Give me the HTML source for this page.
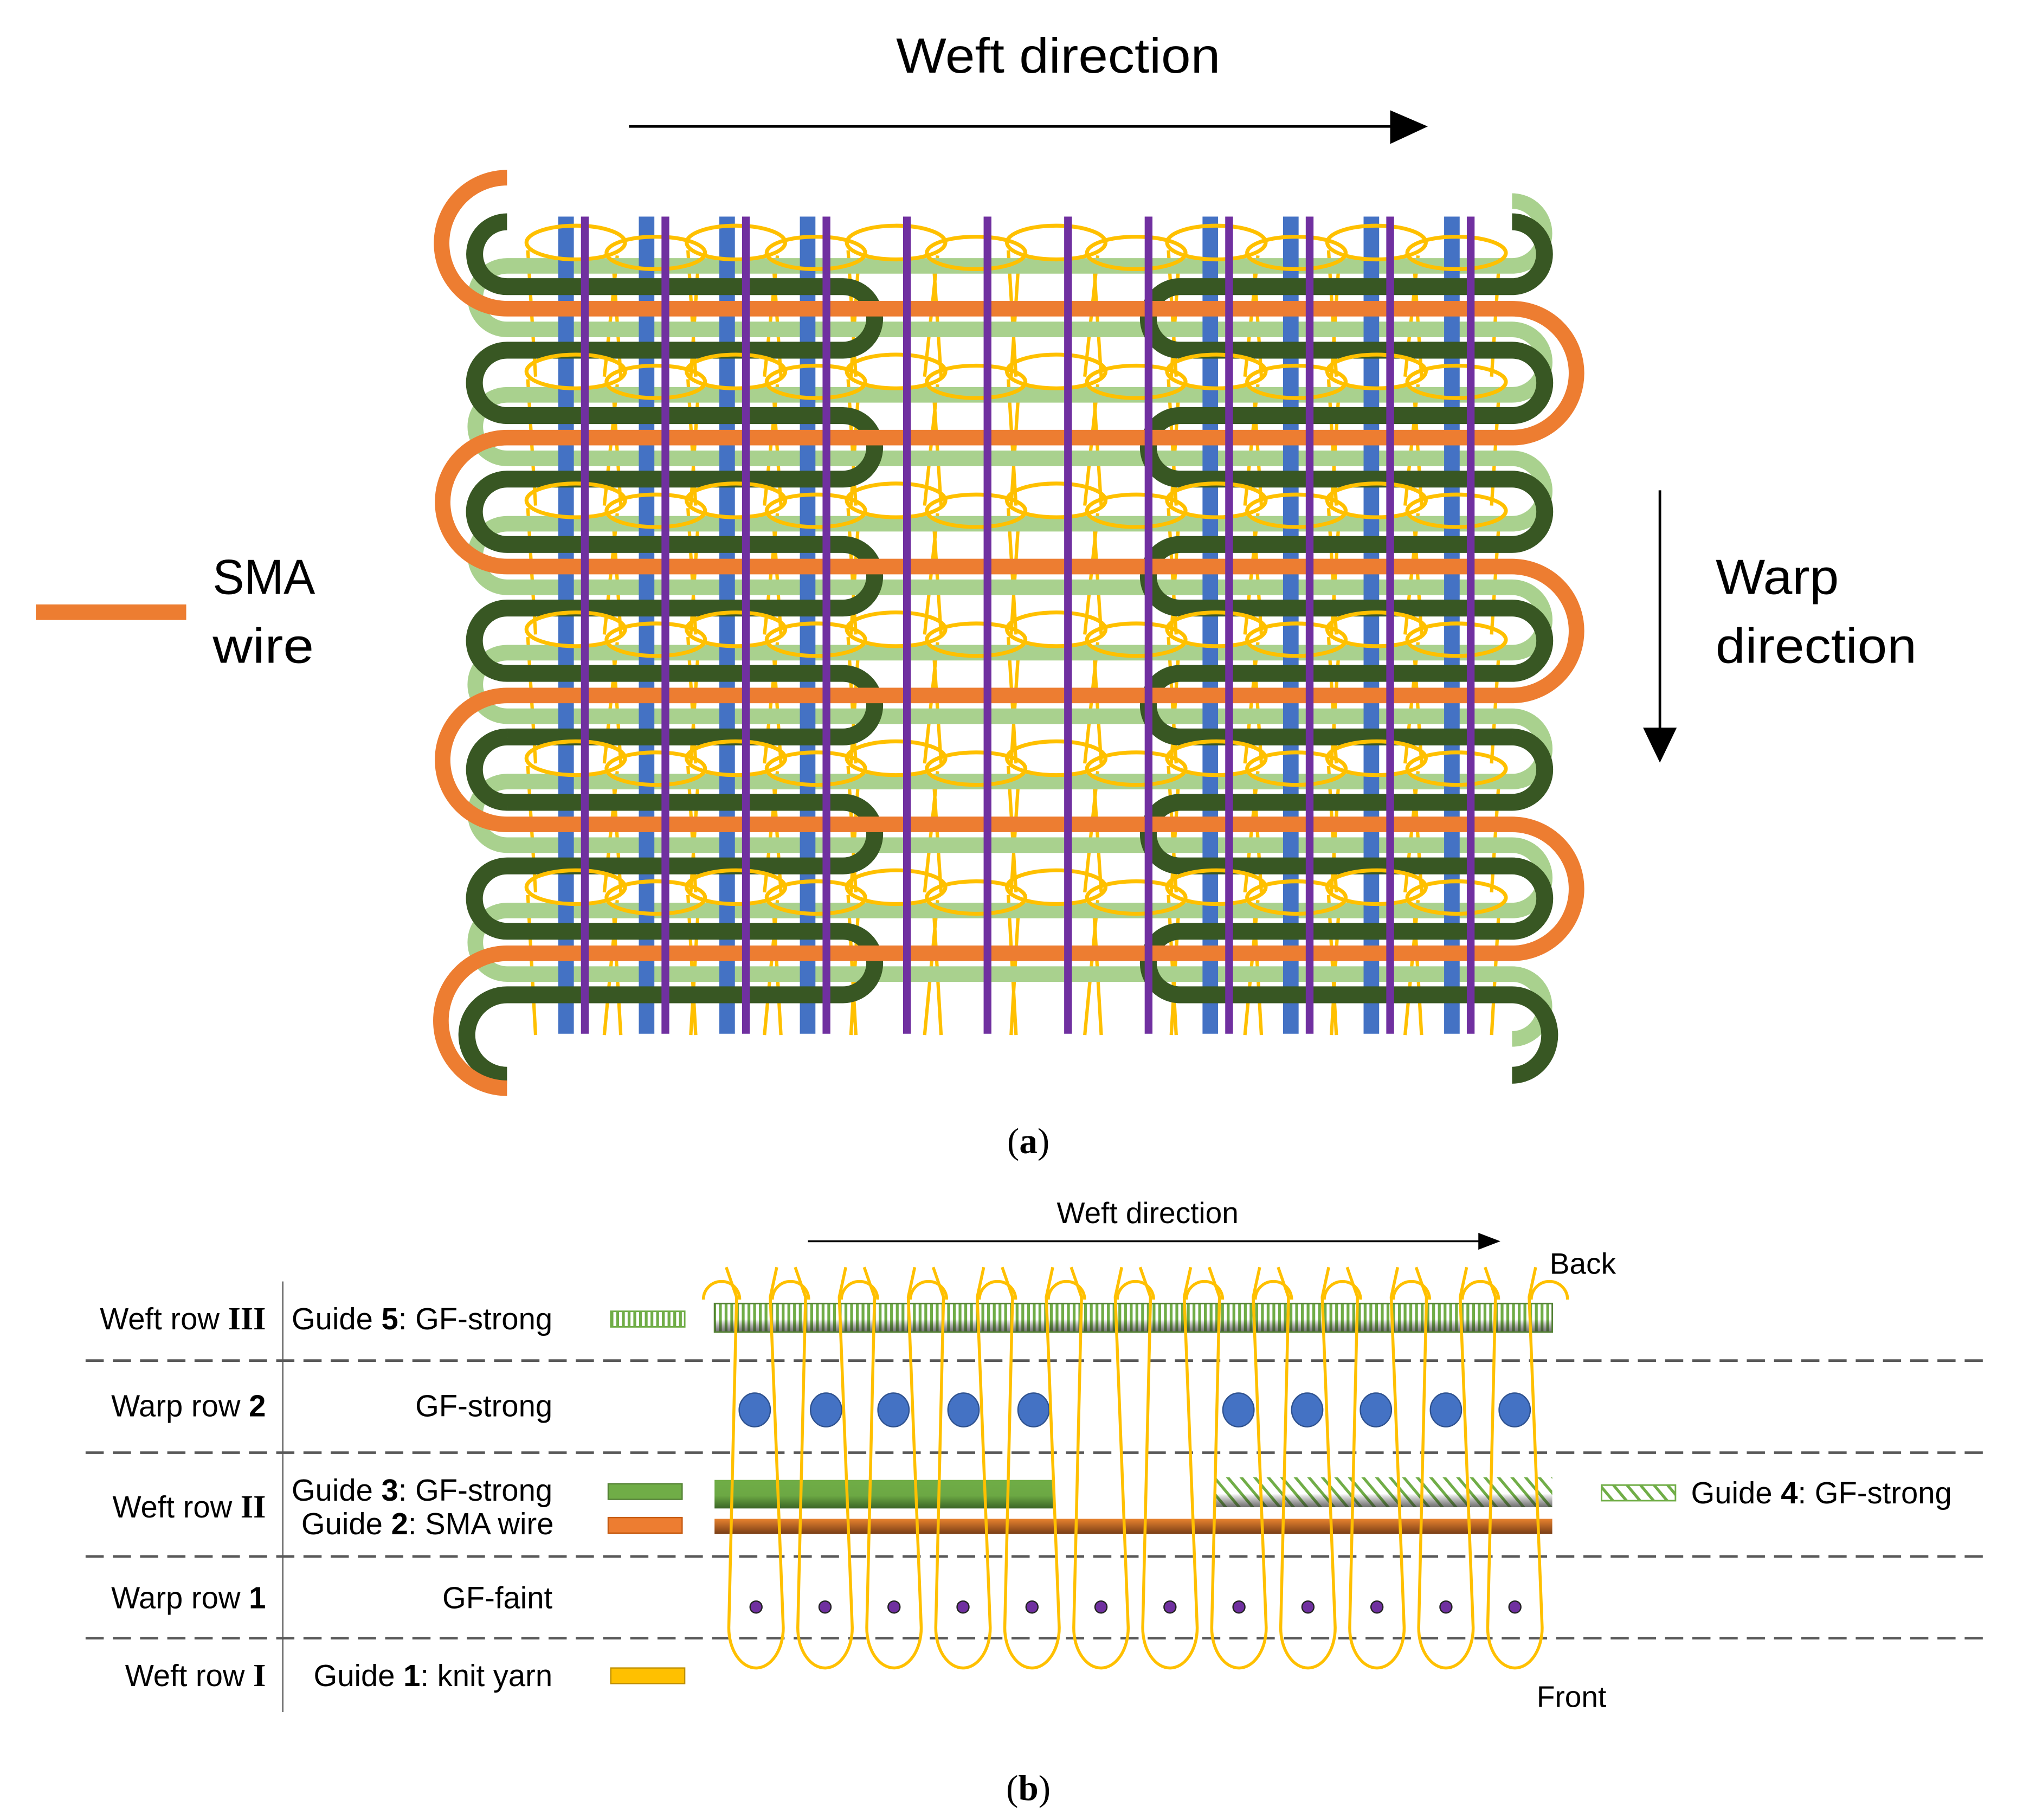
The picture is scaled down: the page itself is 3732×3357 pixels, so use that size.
<!DOCTYPE html>
<html><head><meta charset="utf-8"><style>
html,body{margin:0;padding:0;background:#fff;}
svg{display:block;}
.s{font-family:"Liberation Sans",sans-serif;fill:#000;}
.r{font-family:"Liberation Serif",serif;fill:#000;}
</style></head><body>
<svg xmlns="http://www.w3.org/2000/svg" width="3732" height="3357" viewBox="0 0 1560 1403.2" preserveAspectRatio="none">
<defs>
<pattern id="vs" width="4.4" height="40" patternUnits="userSpaceOnUse"><rect width="4.4" height="40" fill="#fff"/><rect width="2.2" height="40" fill="#70AD47"/></pattern>
<pattern id="hatch" width="8" height="8" patternUnits="userSpaceOnUse" patternTransform="rotate(-40)"><rect width="8" height="8" fill="#fff"/><rect width="2.2" height="8" fill="#70AD47"/></pattern>
<linearGradient id="shade" x1="0" y1="0" x2="0" y2="1"><stop offset="0" stop-color="#000" stop-opacity="0"/><stop offset="0.55" stop-color="#000" stop-opacity="0"/><stop offset="1" stop-color="#333" stop-opacity="0.7"/></linearGradient>
<linearGradient id="gg" x1="0" y1="0" x2="0" y2="1"><stop offset="0" stop-color="#70AD47"/><stop offset="0.55" stop-color="#6CA844"/><stop offset="1" stop-color="#3B6526"/></linearGradient>
<linearGradient id="og" x1="0" y1="0" x2="0" y2="1"><stop offset="0" stop-color="#E8822F"/><stop offset="1" stop-color="#7A3F17"/></linearGradient>
</defs>

<!-- Part (a) -->
<text class="s" x="691" y="56" font-size="38" textLength="250" lengthAdjust="spacingAndGlyphs">Weft direction</text>
<line x1="485" y1="97.5" x2="1075" y2="97.5" stroke="#000" stroke-width="2"/>
<polygon points="1072,85 1101,97.5 1072,111" fill="#000"/>

<rect x="27.6" y="466" width="116" height="12" fill="#ED7D31"/>
<text class="s" x="164" y="458" font-size="38" textLength="79" lengthAdjust="spacingAndGlyphs">SMA</text>
<text class="s" x="164" y="511" font-size="38" textLength="78" lengthAdjust="spacingAndGlyphs">wire</text>

<line x1="1280" y1="378" x2="1280" y2="563" stroke="#000" stroke-width="2"/>
<polygon points="1267,561 1293,561 1280,588" fill="#000"/>
<text class="s" x="1323" y="458" font-size="38" textLength="95" lengthAdjust="spacingAndGlyphs">Warp</text>
<text class="s" x="1323" y="511" font-size="38" textLength="155" lengthAdjust="spacingAndGlyphs">direction</text>

<g id="legs" fill="none" stroke="#FFC000" stroke-width="2.6"></g>
<g id="light" fill="none" stroke="#A9D18E" stroke-width="12"></g>
<g id="blue" stroke="#4472C4" stroke-width="12"></g>
<g id="dark" fill="none" stroke="#385723" stroke-width="13"></g>
<g id="orange" fill="none" stroke="#ED7D31" stroke-width="12"></g>
<g id="loops" fill="none" stroke="#FFC000" stroke-width="3"></g>
<g id="purple" stroke="#7030A0" stroke-width="6"></g>

<text class="r" x="793" y="889" font-size="28" text-anchor="middle">(<tspan font-weight="bold">a</tspan>)</text>

<!-- Part (b) -->
<text class="s" x="885" y="943" font-size="23" text-anchor="middle">Weft direction</text>
<line x1="623" y1="957" x2="1142" y2="957" stroke="#000" stroke-width="1.5"/>
<polygon points="1140,950.5 1157,957 1140,963.5" fill="#000"/>
<text class="s" x="1195" y="982" font-size="23">Back</text>
<text class="s" x="1185" y="1316" font-size="23">Front</text>

<line x1="218" y1="988" x2="218" y2="1320" stroke="#777" stroke-width="1.3"/>
<g stroke="#595959" stroke-width="2" stroke-dasharray="14 7">
<line x1="66" y1="1049" x2="1532" y2="1049"/>
<line x1="66" y1="1120" x2="1532" y2="1120"/>
<line x1="66" y1="1200" x2="1532" y2="1200"/>
<line x1="66" y1="1263" x2="1532" y2="1263"/>
</g>

<g font-size="23.5">
<text class="s" x="205" y="1025" text-anchor="end">Weft row <tspan class="r" font-weight="bold" font-size="25">III</tspan></text>
<text class="s" x="205" y="1092" text-anchor="end">Warp row <tspan font-weight="bold">2</tspan></text>
<text class="s" x="205" y="1170" text-anchor="end">Weft row <tspan class="r" font-weight="bold" font-size="25">II</tspan></text>
<text class="s" x="205" y="1240" text-anchor="end">Warp row <tspan font-weight="bold">1</tspan></text>
<text class="s" x="205" y="1300" text-anchor="end">Weft row <tspan class="r" font-weight="bold" font-size="25">I</tspan></text>

<text class="s" x="426" y="1025" text-anchor="end">Guide <tspan font-weight="bold">5</tspan>: GF-strong</text>
<text class="s" x="426" y="1092" text-anchor="end">GF-strong</text>
<text class="s" x="426" y="1157" text-anchor="end">Guide <tspan font-weight="bold">3</tspan>: GF-strong</text>
<text class="s" x="427" y="1183" text-anchor="end">Guide <tspan font-weight="bold">2</tspan>: SMA wire</text>
<text class="s" x="426" y="1240" text-anchor="end">GF-faint</text>
<text class="s" x="426" y="1300" text-anchor="end">Guide <tspan font-weight="bold">1</tspan>: knit yarn</text>
<text class="s" x="1304" y="1159">Guide <tspan font-weight="bold">4</tspan>: GF-strong</text>
</g>

<!-- legend swatches -->
<rect x="471" y="1011" width="57" height="12" fill="url(#vs)" stroke="#70AD47" stroke-width="1.2"/>
<rect x="469" y="1144" width="57" height="12" fill="#70AD47" stroke="#548235" stroke-width="1"/>
<rect x="469" y="1170" width="57" height="12" fill="#ED7D31" stroke="#C55A11" stroke-width="1"/>
<rect x="471" y="1286" width="57" height="12" fill="#FFC000" stroke="#BF9000" stroke-width="1"/>
<rect x="1235" y="1145" width="57" height="12" fill="url(#hatch)" stroke="#70AD47" stroke-width="1.2"/>

<!-- bars -->
<rect x="551" y="1005" width="646" height="22" fill="url(#vs)"/>
<rect x="551" y="1005" width="646" height="22" fill="url(#shade)" stroke="#548235" stroke-width="1.2"/>
<rect x="551" y="1141" width="262" height="22" fill="url(#gg)"/>
<rect x="937" y="1139" width="260" height="23" fill="url(#hatch)"/>
<rect x="937" y="1139" width="260" height="23" fill="url(#shade)"/>
<rect x="551" y="1171" width="646" height="11.5" fill="url(#og)"/>

<g fill="#4472C4" stroke="#2F528F" stroke-width="1">
<ellipse cx="582" cy="1087" rx="12" ry="13"/><ellipse cx="637" cy="1087" rx="12" ry="13"/><ellipse cx="689" cy="1087" rx="12" ry="13"/><ellipse cx="743" cy="1087" rx="12" ry="13"/><ellipse cx="797" cy="1087" rx="12" ry="13"/>
<ellipse cx="955" cy="1087" rx="12" ry="13"/><ellipse cx="1008" cy="1087" rx="12" ry="13"/><ellipse cx="1061" cy="1087" rx="12" ry="13"/><ellipse cx="1115" cy="1087" rx="12" ry="13"/><ellipse cx="1168" cy="1087" rx="12" ry="13"/>
</g>
<g id="pdots" fill="#7030A0" stroke="#222" stroke-width="1"></g>
<g id="bloops" fill="none" stroke="#FFC000" stroke-width="2.3"></g>

<text class="r" x="793" y="1388" font-size="28" text-anchor="middle">(<tspan font-weight="bold">b</tspan>)</text>
</svg>
<script>
(function(){
var P=99.4,B0=205,xl=391,xr=1166,g1=650,g2=910;
var legs='',light='',dark='',orange='',loops='',blue='',purple='';
for(var k=0;k<6;k++){
 var B=B0+k*P;
 light+='M'+xl+' '+B+'H'+xr+'M'+xl+' '+(B+49)+'H'+xr+'M'+xl+' '+B+'A24.5 24.5 0 0 0 '+xl+' '+(B+49);
 if(k<5) light+='M'+xr+' '+(B+49)+'A25.2 25.2 0 0 1 '+xr+' '+(B+P);
 dark+='M'+xl+' '+(B+16)+'H'+g1+'A24.5 24.5 0 0 1 '+g1+' '+(B+65)+'H'+xl;
 dark+='M'+xr+' '+(B+16)+'H'+g2+'A24.5 24.5 0 0 0 '+g2+' '+(B+65)+'H'+xr;
 if(k<5){
  dark+='M'+xl+' '+(B+65)+'A25.2 25.2 0 0 0 '+xl+' '+(B+P+16);
  dark+='M'+xr+' '+(B+65)+'A25.2 25.2 0 0 1 '+xr+' '+(B+P+16);
 }
 orange+='M'+xl+' '+(B+33)+'H'+xr;
 if(k<5){
  if(k%2==0) orange+='M'+xr+' '+(B+33)+'A49.7 49.7 0 0 1 '+xr+' '+(B+P+33);
  else orange+='M'+xl+' '+(B+33)+'A49.7 49.7 0 0 0 '+xl+' '+(B+P+33);
 }
 var yEnd=k<5?B+P-14:798;
 for(var i=0;i<6;i++){
  var cu=444+123.5*i, cl=505.7+123.5*i;
  loops+='<ellipse cx="'+cu+'" cy="'+(B-18)+'" rx="38" ry="13"/>';
  loops+='<ellipse cx="'+cl+'" cy="'+(B-10)+'" rx="38" ry="12.5"/>';
  legs+='M'+(cu-37)+' '+(B-12)+'L'+(cu-31)+' '+yEnd+'M'+(cu+32)+' '+(B-8)+'L'+(cu+22)+' '+yEnd;
  legs+='M'+(cl-33)+' '+(B-6)+'L'+(cl-27)+' '+yEnd+'M'+(cl+33)+' '+(B-6)+'L'+(cl+27)+' '+yEnd;
 }
}
var B5=B0+5*P;
light+='M'+xr+' '+(B0-50)+'A25 25 0 0 1 '+xr+' '+B0;
light+='M'+xr+' '+(B5+49)+'A25 25 0 0 1 '+xr+' '+(B5+99);
dark+='M'+xl+' '+(B0-34)+'A25 25 0 0 0 '+xl+' '+(B0+16);
dark+='M'+xr+' '+(B0-34)+'A25 25 0 0 1 '+xr+' '+(B0+16);
dark+='M'+xl+' '+(B5+65)+'A31 31 0 0 0 '+xl+' '+(B5+127);
dark+='M'+xr+' '+(B5+65)+'A29 31 0 0 1 '+xr+' '+(B5+127);
orange+='M'+xl+' '+(B0+33-101)+'A50.5 50.5 0 0 0 '+xl+' '+(B0+33);
orange+='M'+xl+' '+(B5+33)+'A51 52 0 0 0 '+xl+' '+(B5+137);
for(var j=0;j<12;j++){
 var px=451+62.1*j;
 purple+='<line x1="'+px+'" y1="167" x2="'+px+'" y2="797"/>';
 if(j<4||j>7) blue+='<line x1="'+(px-14.5)+'" y1="167" x2="'+(px-14.5)+'" y2="797"/>';
}
document.getElementById('legs').innerHTML='<path d="'+legs+'"/>';
document.getElementById('light').innerHTML='<path d="'+light+'"/>';
document.getElementById('dark').innerHTML='<path d="'+dark+'"/>';
document.getElementById('orange').innerHTML='<path d="'+orange+'"/>';
document.getElementById('loops').innerHTML=loops;
document.getElementById('blue').innerHTML=blue;
document.getElementById('purple').innerHTML=purple;
var pd='',bl='';
for(var k=0;k<12;k++){
 var c=583+53.2*k;
 pd+='<circle cx="'+c+'" cy="1239" r="4.6"/>';
 bl+='M'+(c-23)+' 977L'+(c-15)+' 1000L'+(c-21)+' 1255A21 31 0 0 0 '+(c+21)+' 1255L'+(c+11)+' 1000L'+(c+16)+' 977';
}
for(var a=0;a<13;a++){
 var m=583-26.6+53.2*a;
 bl+='M'+(m-14)+' 1002A14 14 0 0 1 '+(m+14)+' 1002';
}
document.getElementById('pdots').innerHTML=pd;
document.getElementById('bloops').innerHTML='<path d="'+bl+'"/>';
})();
</script>
</body></html>
